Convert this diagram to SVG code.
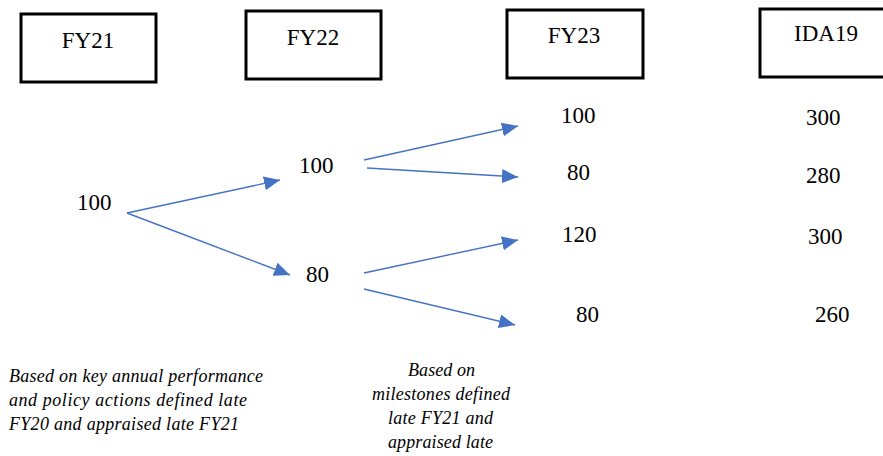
<svg xmlns="http://www.w3.org/2000/svg" width="883" height="456" viewBox="0 0 883 456">
<style>
.box{fill:#fff;stroke:#000;stroke-width:3}
.hd{font-size:23px;text-anchor:middle;fill:#000}
.num{font-size:23px;fill:#000}
.note{font-size:18px;font-style:italic;fill:#000}
.c{stroke:#4472C4;stroke-width:1.4;fill:none;marker-end:url(#ah)}
</style>
<defs>
<marker id="ah" markerUnits="userSpaceOnUse" markerWidth="16" markerHeight="14" refX="16" refY="7" orient="auto">
<path d="M0,0 L16,7 L0,14 z" fill="#4472C4"/>
</marker>
</defs>
<rect width="883" height="456" fill="#fff"/>
<g id="fy21"><rect class="box" x="21" y="14" width="135" height="68"/><text class="hd" font-family="Liberation Serif" x="88" y="48">FY21</text></g>
<g id="fy22"><rect class="box" x="246" y="11" width="135" height="68"/><text class="hd" font-family="Liberation Serif" x="313" y="45">FY22</text></g>
<g id="fy23"><rect class="box" x="507" y="10" width="136" height="68"/><text class="hd" font-family="Liberation Serif" x="574" y="43">FY23</text></g>
<g id="ida19"><rect class="box" x="760" y="9" width="130" height="68"/><text class="hd" font-family="Liberation Serif" x="826" y="41">IDA19</text></g>
<g id="n-fy21-100"><text class="num" font-family="Liberation Serif" x="77" y="210">100</text></g>
<g id="n-fy22-100"><text class="num" font-family="Liberation Serif" x="299" y="173">100</text></g>
<g id="n-fy22-80"><text class="num" font-family="Liberation Serif" x="306" y="282">80</text></g>
<g id="n-fy23-100"><text class="num" font-family="Liberation Serif" x="561" y="123">100</text></g>
<g id="n-fy23-80a"><text class="num" font-family="Liberation Serif" x="567" y="180">80</text></g>
<g id="n-fy23-120"><text class="num" font-family="Liberation Serif" x="562" y="242">120</text></g>
<g id="n-fy23-80b"><text class="num" font-family="Liberation Serif" x="576" y="322">80</text></g>
<g id="n-ida-300a"><text class="num" font-family="Liberation Serif" x="806" y="125">300</text></g>
<g id="n-ida-280"><text class="num" font-family="Liberation Serif" x="806" y="183">280</text></g>
<g id="n-ida-300b"><text class="num" font-family="Liberation Serif" x="808" y="244">300</text></g>
<g id="n-ida-260"><text class="num" font-family="Liberation Serif" x="815" y="322">260</text></g>
<g id="connectors">
<line class="c" x1="127" y1="213" x2="280" y2="180"/>
<line class="c" x1="127" y1="213" x2="290" y2="275"/>
<line class="c" x1="364" y1="160" x2="518" y2="126"/>
<line class="c" x1="367" y1="168" x2="518" y2="177"/>
<line class="c" x1="364" y1="273" x2="518" y2="240"/>
<line class="c" x1="364" y1="289" x2="515" y2="325"/>
</g>
<g id="note-left">
<text class="note" font-family="Liberation Serif" x="9" y="382" textLength="254">Based on key annual performance</text>
<text class="note" font-family="Liberation Serif" x="9" y="406" textLength="238">and policy actions defined late</text>
<text class="note" font-family="Liberation Serif" x="9" y="430" textLength="230">FY20 and appraised late FY21</text>
</g>
<g id="note-right">
<text class="note" font-family="Liberation Serif" x="408" y="376" textLength="67">Based on</text>
<text class="note" font-family="Liberation Serif" x="372" y="400" textLength="138">milestones defined</text>
<text class="note" font-family="Liberation Serif" x="388" y="424" textLength="105">late FY21 and</text>
<text class="note" font-family="Liberation Serif" x="388" y="448" textLength="105">appraised late</text>
</g>
</svg>
